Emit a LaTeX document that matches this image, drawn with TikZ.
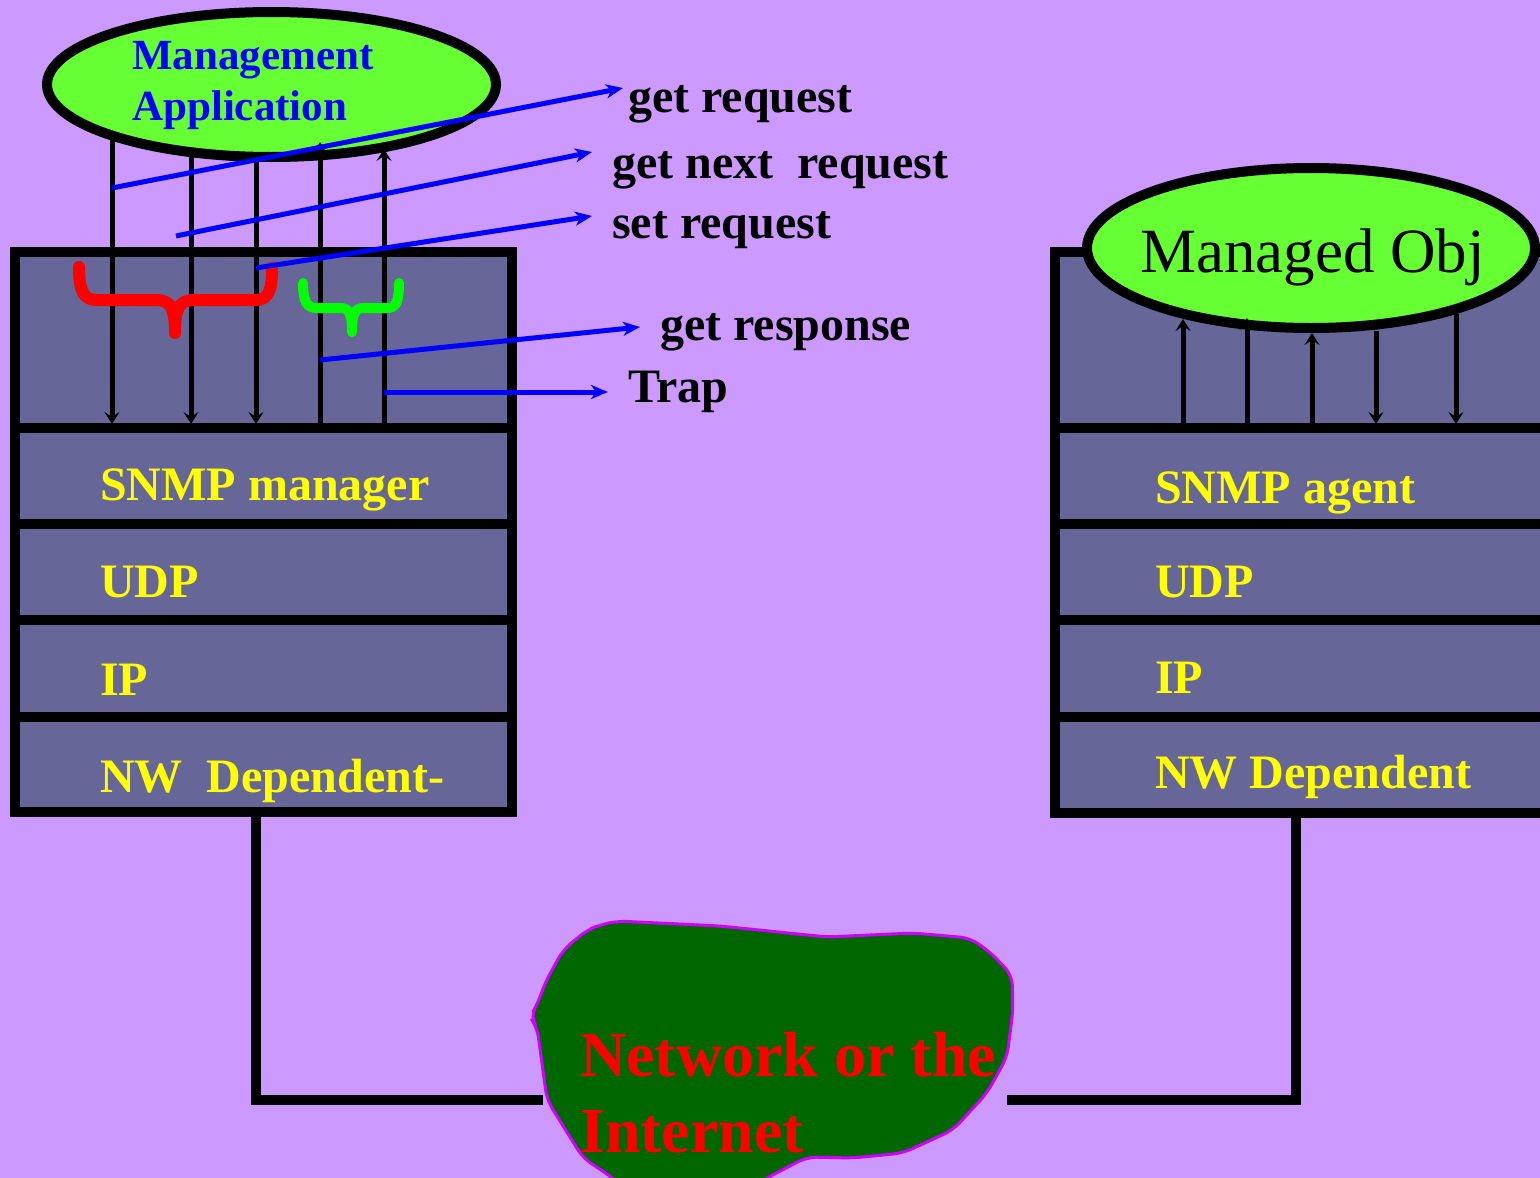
\documentclass[tikz,border=0pt]{standalone}
\usepackage{fontspec}
\setmainfont{Liberation Serif}
\usetikzlibrary{arrows.meta,shapes.geometric}
\definecolor{bgpurple}{HTML}{CC99FF}
\definecolor{layerblue}{HTML}{666699}
\definecolor{appgreen}{HTML}{66FF33}
\definecolor{cloudgreen}{HTML}{006600}
\definecolor{cloudedge}{HTML}{CC00FF}
\definecolor{lblyellow}{HTML}{FFFF00}
\definecolor{bracegreen}{HTML}{00FF00}
\definecolor{msgblue}{HTML}{0000FF}
\begin{document}
\begin{tikzpicture}[x=1pt,y=-1pt,
  layerbox/.style={draw=black, fill=layerblue, line width=10pt, inner sep=0pt, outer sep=0pt, rectangle},
  appell/.style={ellipse, draw=black, fill=appgreen, line width=10pt, inner sep=0pt},
  lay/.style={anchor=base west, inner sep=0pt, text=lblyellow, font=\fontsize{48}{56}\selectfont\bfseries},
  msg/.style={anchor=base west, inner sep=0pt, text=black, font=\fontsize{48}{56}\selectfont\bfseries},
  vline/.style={draw=black, line width=5pt},
  varrow/.style={vline, -{Stealth[length=12pt,width=15pt,inset=5pt]}},
  barrow/.style={draw=msgblue, line width=5pt, -{Stealth[length=17pt,width=14pt,inset=5pt]}},
  wire/.style={draw=black, line width=10pt},
  bracestyle/.style={line width=#1, line cap=round, line join=round}
]
\useasboundingbox (0,0) rectangle (1540,1178);
\fill[bgpurple] (0,0) rectangle (1540,1178);
\clip (0,0) rectangle (1540,1178);

% ---- manager stack ----
\node[layerbox, minimum width=497pt, minimum height=176pt] (mtop) at (263.5,340) {};
\node[layerbox, minimum width=497pt, minimum height=96pt] (msnmp) at (263.5,476) {};
\node[layerbox, minimum width=497pt, minimum height=96pt] (mudp) at (263.5,572) {};
\node[layerbox, minimum width=497pt, minimum height=97pt] (mip) at (263.5,668.5) {};
\node[layerbox, minimum width=497pt, minimum height=95pt] (mnw) at (263.5,764.5) {};

% ---- agent stack ----
\node[layerbox, minimum width=510pt, minimum height=176pt] (atop) at (1310,340) {};
\node[layerbox, minimum width=510pt, minimum height=96pt] (asnmp) at (1310,476) {};
\node[layerbox, minimum width=510pt, minimum height=96pt] (audp) at (1310,572) {};
\node[layerbox, minimum width=510pt, minimum height=97pt] (aip) at (1310,668.5) {};
\node[layerbox, minimum width=510pt, minimum height=96pt] (anw) at (1310,765) {};

% ---- ellipses ----
\node[appell, minimum width=449pt, minimum height=145pt] (mgmt) at (271.5,84.5) {};
\node[appell, minimum width=448pt, minimum height=160pt] (mobj) at (1311,248) {};

% ---- manager vertical arrows ----
\coordinate (m1t) at (112,140);  \coordinate (m1b) at (112,424);
\coordinate (m2t) at (191,153);  \coordinate (m2b) at (191,424);
\coordinate (m3t) at (256,157);  \coordinate (m3b) at (256,424);
\coordinate (m4t) at (320,142);  \coordinate (m4b) at (320,424);
\coordinate (m5t) at (384,149);  \coordinate (m5b) at (384,424);
\draw[varrow] (m1t) -- (m1b);
\draw[varrow] (m2t) -- (m2b);
\draw[varrow] (m3t) -- (m3b);
\draw[varrow] (m4b) -- (m4t);
\draw[varrow] (m5b) -- (m5t);

% ---- agent vertical arrows ----
\coordinate (a1t) at (1183,319); \coordinate (a1b) at (1183,424);
\coordinate (a2t) at (1247,318); \coordinate (a2b) at (1247,424);
\coordinate (a3t) at (1312,333); \coordinate (a3b) at (1312,424);
\coordinate (a4t) at (1376,331); \coordinate (a4b) at (1376,424);
\coordinate (a5t) at (1456,314); \coordinate (a5b) at (1456,424);
\draw[varrow] (a1b) -- (a1t);
\draw[varrow] (a2b) -- (a2t);
\draw[varrow] (a3b) -- (a3t);
\draw[varrow] (a4t) -- (a4b);
\draw[varrow] (a5t) -- (a5b);

% ---- braces ----
\draw[red, bracestyle=12pt] (79,267) .. controls (79,292) and (84,300) .. (97,300)
  -- (155,300) .. controls (170,300) and (175,306) .. (175,333)
  .. controls (175,306) and (180,300) .. (195,300)
  -- (255,300) .. controls (268,300) and (272,292) .. (272,268);
\draw[bracegreen, bracestyle=10pt] (303,283) .. controls (303,302) and (307,308) .. (317,308)
  -- (340,308) .. controls (349,308) and (352,313) .. (352,332)
  .. controls (352,313) and (355,308) .. (364,308)
  -- (387,308) .. controls (396,308) and (399,302) .. (399,283);

% ---- message arrows ----
\coordinate (g1s) at (112,188); \coordinate (g1e) at (623,88);
\coordinate (g2s) at (176,236); \coordinate (g2e) at (592,152);
\coordinate (g3s) at (256,268); \coordinate (g3e) at (592,216);
\coordinate (g4s) at (320,360); \coordinate (g4e) at (640,327);
\coordinate (g5s) at (384,392); \coordinate (g5e) at (608,392);
\draw[barrow] (g1s) -- (g1e);
\draw[barrow] (g2s) -- (g2e);
\draw[barrow] (g3s) -- (g3e);
\draw[barrow] (g4s) -- (g4e);
\draw[barrow] (g5s) -- (g5e);

% ---- cloud ----
\draw[fill=cloudgreen, draw=cloudedge, line width=3pt, rounded corners=10pt]
  (600,925) -- (617,921) -- (720,926) -- (827,937) -- (913,933) -- (970,938) -- (990,952)
  -- (1012,975) -- (1013,1010) -- (1007,1057) -- (987,1093) -- (953,1130) -- (903,1153)
  -- (853,1158) -- (807,1157) -- (767,1178) -- (740,1195) -- (630,1195) -- (613,1178)
  -- (583,1158) -- (547,1100) -- (537,1027) -- (530,1017) -- (538,1003) -- (545,983)
  -- (563,950) -- (587,930) -- cycle;
\coordinate (cloudW) at (543,1100);
\coordinate (cloudE) at (1007,1100);

% ---- wires ----
\coordinate (mw) at (256,807);
\coordinate (aw) at (1296,808);
\draw[wire] (mw) |- (cloudW);
\draw[wire] (aw) |- (cloudE);

% ---- texts ----
\node[anchor=base west, inner sep=0pt, text=msgblue, font=\fontsize{43}{50}\selectfont\bfseries] (mgmtA) at (132,69) {Management};
\node[anchor=base west, inner sep=0pt, text=msgblue, font=\fontsize{43}{50}\selectfont\bfseries] (mgmtB) at (132,120) {Application};
\node[anchor=base west, inner sep=0pt, text=black, font=\fontsize{63}{70}\selectfont] (mobjT) at (1140,272) {Managed Obj};

\node[msg] (tgetreq) at (628,112) {get request};
\node[msg] (tgetnext) at (612,178) {get next\ \ request};
\node[msg] (tsetreq) at (612,238) {set request};
\node[msg] (tgetresp) at (660,340) {get response};
\node[msg] (ttrap) at (628,402) {Trap};

\node[lay] (lmsnmp) at (100,500) {SNMP manager};
\node[lay] (lmudp) at (100,597) {UDP};
\node[lay] (lmip) at (100,695) {IP};
\node[lay] (lmnw) at (100,792) {NW\ \ Dependent-};

\node[lay] (lasnmp) at (1155,503) {SNMP agent};
\node[lay] (laudp) at (1155,597) {UDP};
\node[lay] (laip) at (1155,693) {IP};
\node[lay] (lanw) at (1155,788) {NW Dependent};

\node[anchor=base west, inner sep=0pt, text=red, font=\fontsize{64}{72}\selectfont\bfseries] (netA) at (580,1076) {Network or the};
\node[anchor=base west, inner sep=0pt, text=red, font=\fontsize{64}{72}\selectfont\bfseries] (netB) at (580,1152) {Internet};
\end{tikzpicture}
\end{document}
